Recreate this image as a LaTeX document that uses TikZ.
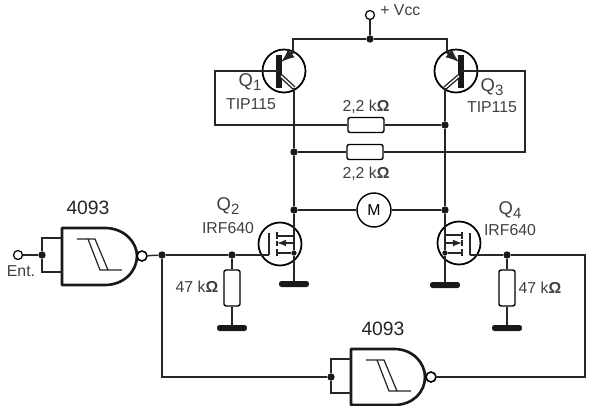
\documentclass[tikz,border=0pt]{standalone}
\usepackage{fontspec}
\setmainfont{Liberation Sans}
\usepackage{tikz}
\usetikzlibrary{positioning}
\newcommand{\qsub}[1]{\raisebox{-2pt}{\fontsize{8.5}{9}\selectfont #1}}
\tikzset{
    wire/.style={line width=0.8pt,color=black!85},
    dot/.style={circle,fill=black!90,inner sep=0pt,minimum size=4.2pt},
    term/.style={circle,draw,line width=0.7pt,fill=white,inner sep=0pt,minimum size=9*0.569pt},
    bubble/.style={circle,draw,line width=0.9pt,fill=white,inner sep=0pt,minimum size=10*0.569pt},
    resh/.style={rectangle,rounded corners=1.2pt,draw,line width=0.8pt,fill=white,inner sep=0pt,minimum width=36*0.569pt,minimum height=15*0.569pt},
    resv/.style={rectangle,rounded corners=1.2pt,draw,line width=0.8pt,fill=white,inner sep=0pt,minimum width=16*0.569pt,minimum height=36*0.569pt},
    trans/.style={circle,draw,line width=1pt,inner sep=0pt,minimum size=43*0.569pt},
    gnd/.style={rectangle,rounded corners=1.4pt,fill=black!90,inner sep=0pt,minimum width=30*0.569pt,minimum height=6*0.569pt},
    gateline/.style={line width=1.5pt,color=black!90,line join=round},
    hyst/.style={line width=0.7pt,color=black!85},
    lab/.style={inner sep=0pt,font=\fontsize{9}{10}\selectfont,color=black!75},
    qlab/.style={inner sep=0pt,font=\fontsize{10.5}{11}\selectfont,color=black!75},
    biglab/.style={inner sep=0pt,font=\fontsize{11}{12}\selectfont,color=black!85}
}
\begin{document}
\begin{tikzpicture}[x=0.02cm,y=-0.02cm]

    \useasboundingbox (0,0) rectangle (600,406);
    \fill [white] (0,0) rectangle (600,406);

    %supply
    \node [term] (vcc) at (370,15) {};
    \node [dot] (top) at (370,39) {};
    \node [lab,anchor=west] (vcclab) at (380,10) {+ Vcc};
    \draw [wire] (vcc) -- (top);

    %upper transistors
    \node [trans] (q1) at (284,71) {};
    \node [trans] (q3) at (456,71) {};
    \coordinate (q1c) at (293,52);
    \coordinate (q3c) at (447,52);
    \coordinate (q1b) at (279,71);
    \coordinate (q3b) at (461,71);
    \coordinate (q1e) at (294,88);
    \coordinate (q3e) at (445,88);
    \coordinate (q1bar) at (281,62);
    \coordinate (q3bar) at (459,62);
    \coordinate (q1ee) at (281,76);
    \coordinate (q3ee) at (459,76);
    \draw [wire] (top) -| (q1c);
    \draw [wire] (top) -| (q3c);
    \draw [line width=3.6pt,color=black!90] (279,55) -- (279,88);
    \draw [line width=3.6pt,color=black!90] (461,55) -- (461,88);
    \draw [wire] (q1.west) -- (q1b);
    \draw [wire] (q3.east) -- (q3b);
    \draw [wire,line width=1.6pt,->,>=latex] (q1c) -- (q1bar);
    \draw [wire,line width=1.6pt,->,>=latex] (q3c) -- (q3bar);
    \draw [line width=2.4pt,color=black!85] (q1ee) -- (q1e);
    \draw [line width=0.8pt,color=white] (q1ee) -- (q1e);
    \draw [line width=2.4pt,color=black!85] (q3ee) -- (q3e);
    \draw [line width=0.8pt,color=white] (q3ee) -- (q3e);
    \node [qlab] (q1lab) at (250,82) {Q\qsub{1}};
    \node [lab] (q1type) at (251,104) {TIP115};
    \node [qlab] (q3lab) at (492,87) {Q\qsub{3}};
    \node [lab] (q3type) at (492,107) {TIP115};

    %cross coupling
    \coordinate (lc) at (215,71);
    \coordinate (rc) at (525,71);
    \node [resh] (r1) at (366,125) {};
    \node [resh] (r2) at (365,152) {};
    \node [dot] (n1) at (445,125) {};
    \node [dot] (n2) at (294,152) {};
    \node [dot] (ma) at (294,210) {};
    \node [dot] (mb) at (445,210) {};
    \node [circle,draw,line width=0.8pt,inner sep=0pt,minimum size=34*0.569pt,font=\fontsize{9}{10}\selectfont] (m) at (374,210) {M};
    \draw [wire] (q1.west) -- (lc) |- (r1);
    \draw [wire] (r1) -- (n1);
    \draw [wire] (n2) -- (r2);
    \draw [wire] (r2) -| (rc) -- (q3.east);
    \draw [wire] (q1e) -- (n2);
    \draw [wire] (n2) -- (ma);
    \draw [wire] (q3e) -- (n1);
    \draw [wire] (n1) -- (mb);
    \draw [wire] (ma) -- (m);
    \draw [wire] (m) -- (mb);
    \node [lab] (r1lab) at (366,107) {2,2 k\textbf{Ω}};
    \node [lab] (r2lab) at (366,174) {2,2 k\textbf{Ω}};

    %lower transistors
    \node [trans] (q2) at (280,244) {};
    \node [trans] (q4) at (459,243) {};
    \node [gnd] (g2) at (294,284) {};
    \node [gnd] (g4) at (445,285) {};
    \node [dot,minimum size=3pt] (s2) at (294,253) {};
    \node [dot,minimum size=3pt] (s4) at (445,253) {};
    \draw [wire] (ma) -- (s2);
    \draw [wire] (s2) -- (g2);
    \draw [wire] (mb) -- (s4);
    \draw [wire] (s4) -- (g4);
    \draw [wire] (269,233) -- (269,255);
    \draw [wire] (470,233) -- (470,255);
    \draw [wire,line width=1.1pt] (277,232) -- (277,239);
    \draw [wire,line width=1.1pt] (277,241) -- (277,246);
    \draw [wire,line width=1.1pt] (277,249) -- (277,256);
    \draw [wire,line width=1.1pt] (462,232) -- (462,239);
    \draw [wire,line width=1.1pt] (462,240) -- (462,246);
    \draw [wire,line width=1.1pt] (462,249) -- (462,256);
    \draw [wire] (277,236) -- (294,236);
    \draw [wire] (277,253) -- (s2);
    \draw [wire,->,>=latex] (294,243) -- (277,243);
    \draw [wire] (445,235) -- (462,235);
    \draw [wire] (s4) -- (462,253);
    \draw [wire,->,>=latex] (445,243) -- (462,243);
    \node [qlab] (q2lab) at (228,206) {Q\qsub{2}};
    \node [lab] (q2type) at (228,228) {IRF640};
    \node [qlab] (q4lab) at (510,210) {Q\qsub{4}};
    \node [lab] (q4type) at (510,230) {IRF640};

    %gate resistors
    \node [dot] (n3) at (232,255) {};
    \node [dot] (n4) at (507,255) {};
    \node [resv] (r3) at (232,288) {};
    \node [resv] (r4) at (507,288) {};
    \node [gnd] (g3) at (232,328) {};
    \node [gnd] (g5) at (507,328) {};
    \draw [wire] (n3) -- (r3);
    \draw [wire] (r3) -- (g3);
    \draw [wire] (n4) -- (r4);
    \draw [wire] (r4) -- (g5);
    \node [lab] (r3lab) at (197,287) {47 k\textbf{Ω}};
    \node [lab] (r4lab) at (540,288) {47 k\textbf{Ω}};

    %first gate
    \draw [gateline] (62,228) -- (105,228) .. controls (124,228) and (137,242) .. (137,256) .. controls (137,271) and (124,285) .. (105,285) -- (62,285) -- cycle;
    \draw [hyst] (77,239) -- (95,239) -- (108,270) -- (122,270);
    \draw [hyst] (88,239) -- (100,270) -- (108,270);
    \node [bubble] (b1) at (142,256) {};
    \node [term] (ent) at (18,255) {};
    \node [dot] (in1) at (42,255) {};
    \coordinate (i1a) at (62,238);
    \coordinate (i1b) at (62,272);
    \node [dot] (out1) at (162,255) {};
    \draw [wire] (ent) -- (in1);
    \draw [wire] (in1) |- (i1a);
    \draw [wire] (in1) |- (i1b);
    \draw [wire] (b1) -- (out1);
    \draw [wire] (out1) -- (n3);
    \draw [wire] (n3) -- (269,255);
    \node [biglab] (u1) at (88,208) {4093};
    \node [lab] (entlab) at (21,271) {Ent.};

    %second gate
    \draw [gateline] (351,349) -- (394,349) .. controls (413,349) and (425,363) .. (425,377) .. controls (425,392) and (413,405) .. (394,405) -- (351,405) -- cycle;
    \draw [hyst] (366,360) -- (384,360) -- (397,391) -- (411,391);
    \draw [hyst] (377,360) -- (389,391) -- (397,391);
    \node [bubble] (b2) at (431,377) {};
    \node [dot] (in2) at (331,377) {};
    \coordinate (i2a) at (351,359);
    \coordinate (i2b) at (351,393);
    \coordinate (fbr) at (585,255);
    \draw [wire] (out1) |- (in2);
    \draw [wire] (in2) |- (i2a);
    \draw [wire] (in2) |- (i2b);
    \draw [wire] (b2) -| (fbr) -- (n4);
    \draw [wire] (n4) -- (470,255);
    \node [biglab] (u2) at (383,329) {4093};

\end{tikzpicture}
\end{document}
